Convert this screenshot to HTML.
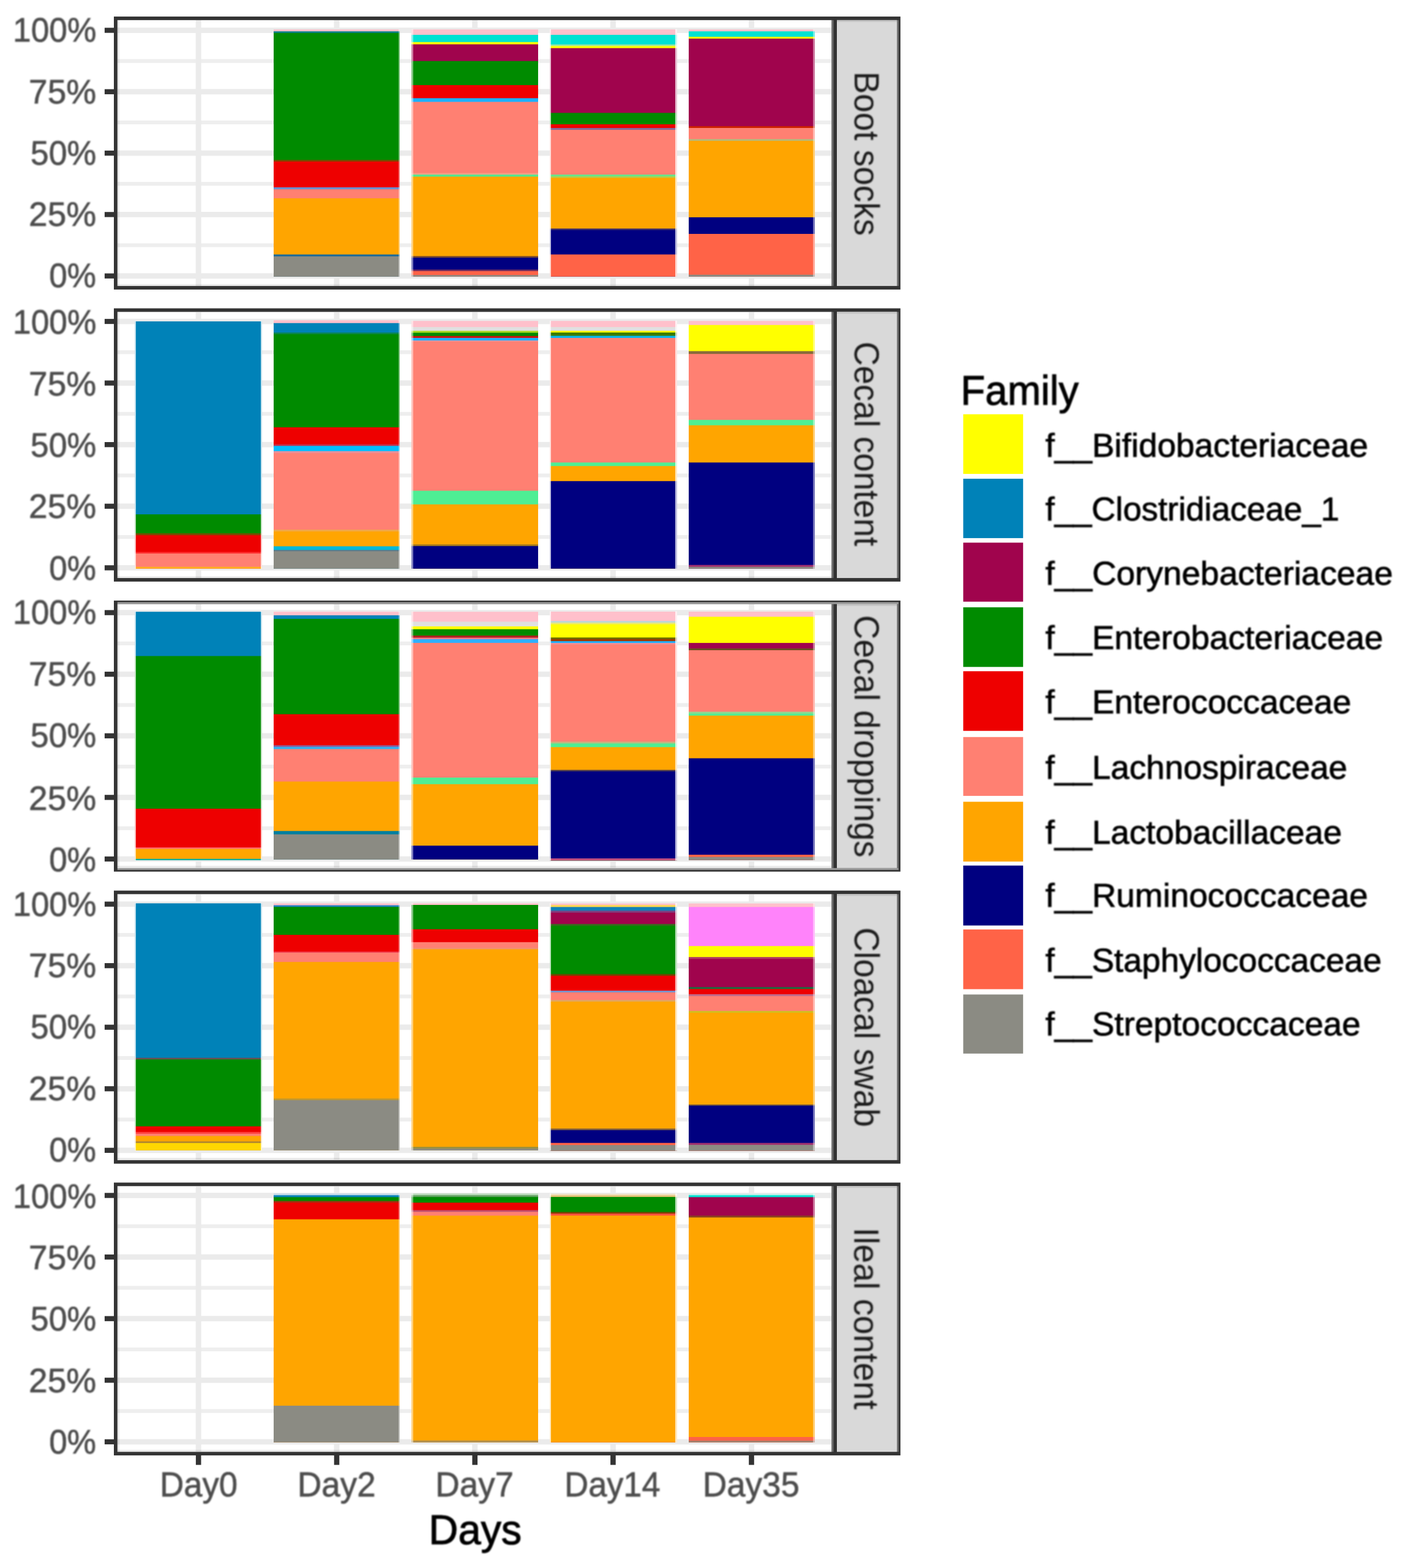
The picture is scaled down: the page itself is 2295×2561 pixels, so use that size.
<!DOCTYPE html>
<html lang="en">
<head>
<meta charset="utf-8">
<title>Family relative abundance by sample type and day</title>
<style>
html, body { margin: 0; padding: 0; background: #FFFFFF; }
body { width: 2295px; height: 2561px; overflow: hidden; }
svg { display: block; }
text { font-family: "Liberation Sans", sans-serif; }
.ax { font-size: 52.8px; fill: #4D4D4D; stroke: #4D4D4D; stroke-width: 0.7px; }
.strip { font-size: 53px; fill: #1A1A1A; }
.title { font-size: 64.5px; fill: #000000; stroke: #000000; stroke-width: 1.1px; }
.leg { font-size: 54px; fill: #000000; stroke: #000000; stroke-width: 0.9px; }
</style>
</head>
<body>
<svg width="2295" height="2561" viewBox="0 0 2295 2561" text-rendering="geometricPrecision">
<defs><filter id="soft" x="0" y="0" width="2295" height="2561" filterUnits="userSpaceOnUse"><feGaussianBlur stdDeviation="1"/></filter></defs>
<rect x="0" y="0" width="2295" height="2561" fill="#FFFFFF"/>
<g class="panel">
<rect x="186.00" y="27.05" width="1284.80" height="445.85" fill="#333333"/>
<rect x="191.80" y="32.85" width="1166.70" height="434.25" fill="#FFFFFF"/>
<rect x="192.00" y="45.10" width="1166.00" height="8.80" fill="#EBEBEB"/>
<rect x="192.00" y="96.55" width="1166.00" height="6.20" fill="#EEEEEE"/>
<rect x="192.00" y="145.40" width="1166.00" height="8.80" fill="#EBEBEB"/>
<rect x="192.00" y="196.85" width="1166.00" height="6.20" fill="#EEEEEE"/>
<rect x="192.00" y="245.70" width="1166.00" height="8.80" fill="#EBEBEB"/>
<rect x="192.00" y="297.15" width="1166.00" height="6.20" fill="#EEEEEE"/>
<rect x="192.00" y="346.00" width="1166.00" height="8.80" fill="#EBEBEB"/>
<rect x="192.00" y="397.45" width="1166.00" height="6.20" fill="#EEEEEE"/>
<rect x="192.00" y="446.30" width="1166.00" height="8.80" fill="#EBEBEB"/>
<rect x="319.70" y="33.00" width="9.00" height="434.00" fill="#EBEBEB"/>
<rect x="545.50" y="33.00" width="9.00" height="434.00" fill="#EBEBEB"/>
<rect x="771.20" y="33.00" width="9.00" height="434.00" fill="#EBEBEB"/>
<rect x="996.90" y="33.00" width="9.00" height="434.00" fill="#EBEBEB"/>
<rect x="1223.00" y="33.00" width="9.00" height="434.00" fill="#EBEBEB"/>
<rect x="192.00" y="33.00" width="2.90" height="434.00" fill="#000000" fill-opacity="0.09"/>
<rect x="192.00" y="464.10" width="1166.00" height="2.90" fill="#000000" fill-opacity="0.08"/>
<rect x="447.00" y="48.10" width="206.00" height="403.70" fill="#FFC0CB"/>
<rect x="447.00" y="51.20" width="206.00" height="400.60" fill="#00808A"/>
<rect x="447.00" y="53.80" width="206.00" height="398.00" fill="#008B00"/>
<rect x="447.00" y="261.20" width="206.00" height="190.60" fill="#7A4A00"/>
<rect x="447.00" y="263.80" width="206.00" height="188.00" fill="#EE0000"/>
<rect x="447.00" y="305.90" width="206.00" height="145.90" fill="#6A8FD0"/>
<rect x="447.00" y="309.20" width="206.00" height="142.60" fill="#FF8072"/>
<rect x="447.00" y="323.90" width="206.00" height="127.90" fill="#FFA500"/>
<rect x="447.00" y="415.60" width="206.00" height="36.20" fill="#1A6A9A"/>
<rect x="447.00" y="418.70" width="206.00" height="33.10" fill="#8B8B83"/>
<rect x="651.00" y="47.60" width="2.00" height="404.70" fill="#FFFFFF" fill-opacity="0.45"/>
<rect x="672.00" y="48.10" width="207.00" height="403.70" fill="#FFC0CB"/>
<rect x="672.00" y="56.90" width="207.00" height="394.90" fill="#00E2D2"/>
<rect x="672.00" y="68.70" width="207.00" height="383.10" fill="#FFFF00"/>
<rect x="672.00" y="72.40" width="207.00" height="379.40" fill="#A0044D"/>
<rect x="672.00" y="99.70" width="207.00" height="352.10" fill="#008B00"/>
<rect x="672.00" y="139.00" width="207.00" height="312.80" fill="#EE0000"/>
<rect x="672.00" y="160.40" width="207.00" height="291.40" fill="#1AB2FF"/>
<rect x="672.00" y="166.40" width="207.00" height="285.40" fill="#FF8072"/>
<rect x="672.00" y="282.60" width="207.00" height="169.20" fill="#F8A088"/>
<rect x="672.00" y="285.20" width="207.00" height="166.60" fill="#50E890"/>
<rect x="672.00" y="288.50" width="207.00" height="163.30" fill="#FFA500"/>
<rect x="672.00" y="418.20" width="207.00" height="33.60" fill="#7A4A30"/>
<rect x="672.00" y="420.80" width="207.00" height="31.00" fill="#000080"/>
<rect x="672.00" y="440.20" width="207.00" height="11.60" fill="#6A2A60"/>
<rect x="672.00" y="442.70" width="207.00" height="9.10" fill="#FF6347"/>
<rect x="672.00" y="449.20" width="207.00" height="2.60" fill="#8B8B83"/>
<rect x="672.00" y="47.60" width="3.00" height="404.70" fill="#FFFFFF" fill-opacity="0.5"/>
<rect x="898.00" y="48.10" width="208.00" height="403.70" fill="#FFC0CB"/>
<rect x="898.00" y="56.90" width="208.00" height="394.90" fill="#00E2D2"/>
<rect x="898.00" y="72.60" width="208.00" height="379.20" fill="#A0E8A0"/>
<rect x="898.00" y="75.20" width="208.00" height="376.60" fill="#FFFF00"/>
<rect x="898.00" y="78.60" width="208.00" height="373.20" fill="#A0044D"/>
<rect x="898.00" y="184.40" width="208.00" height="267.40" fill="#008B00"/>
<rect x="898.00" y="203.00" width="208.00" height="248.80" fill="#EE0000"/>
<rect x="898.00" y="209.00" width="208.00" height="242.80" fill="#8A6A9A"/>
<rect x="898.00" y="212.10" width="208.00" height="239.70" fill="#FF8072"/>
<rect x="898.00" y="285.20" width="208.00" height="166.60" fill="#60E890"/>
<rect x="898.00" y="287.80" width="208.00" height="164.00" fill="#B0D050"/>
<rect x="898.00" y="290.40" width="208.00" height="161.40" fill="#FFA500"/>
<rect x="898.00" y="373.30" width="208.00" height="78.50" fill="#3A2A6A"/>
<rect x="898.00" y="375.80" width="208.00" height="76.00" fill="#000080"/>
<rect x="898.00" y="415.60" width="208.00" height="36.20" fill="#FF6347"/>
<rect x="898.00" y="47.60" width="2.00" height="404.70" fill="#FFFFFF" fill-opacity="0.75"/>
<rect x="1103.00" y="47.60" width="3.00" height="404.70" fill="#FFFFFF" fill-opacity="0.75"/>
<rect x="1125.00" y="48.10" width="206.00" height="403.70" fill="#FFC0CB"/>
<rect x="1125.00" y="51.20" width="206.00" height="400.60" fill="#00E2D2"/>
<rect x="1125.00" y="60.00" width="206.00" height="391.80" fill="#FFFF00"/>
<rect x="1125.00" y="63.10" width="206.00" height="388.70" fill="#A0044D"/>
<rect x="1125.00" y="206.10" width="206.00" height="245.70" fill="#CC2200"/>
<rect x="1125.00" y="209.00" width="206.00" height="242.80" fill="#FF8072"/>
<rect x="1125.00" y="227.10" width="206.00" height="224.70" fill="#B8B878"/>
<rect x="1125.00" y="230.10" width="206.00" height="221.70" fill="#FFA500"/>
<rect x="1125.00" y="354.90" width="206.00" height="96.90" fill="#000080"/>
<rect x="1125.00" y="382.00" width="206.00" height="69.80" fill="#FF6347"/>
<rect x="1125.00" y="448.70" width="206.00" height="3.10" fill="#8B8B83"/>
<rect x="1328.00" y="47.60" width="3.00" height="404.70" fill="#FFFFFF" fill-opacity="0.45"/>
<rect x="1358.50" y="32.85" width="3.00" height="434.25" fill="#6E6E6E"/>
<rect x="1367.00" y="32.85" width="98.00" height="434.25" fill="#D9D9D9"/>
<rect x="1367.00" y="32.85" width="98.00" height="2.90" fill="#C4C4C4"/>
<rect x="1465.00" y="32.85" width="2.80" height="434.25" fill="#777777"/>
<rect x="170.90" y="45.35" width="15.60" height="8.30" fill="#333333"/>
<rect x="170.90" y="145.65" width="15.60" height="8.30" fill="#333333"/>
<rect x="170.90" y="245.95" width="15.60" height="8.30" fill="#333333"/>
<rect x="170.90" y="346.25" width="15.60" height="8.30" fill="#333333"/>
<rect x="170.90" y="446.55" width="15.60" height="8.30" fill="#333333"/>
</g>
<g class="panel">
<rect x="186.00" y="503.60" width="1284.80" height="446.30" fill="#333333"/>
<rect x="191.80" y="509.40" width="1166.70" height="434.70" fill="#FFFFFF"/>
<rect x="192.00" y="520.60" width="1166.00" height="8.80" fill="#EBEBEB"/>
<rect x="192.00" y="572.20" width="1166.00" height="6.20" fill="#EEEEEE"/>
<rect x="192.00" y="621.20" width="1166.00" height="8.80" fill="#EBEBEB"/>
<rect x="192.00" y="672.80" width="1166.00" height="6.20" fill="#EEEEEE"/>
<rect x="192.00" y="721.80" width="1166.00" height="8.80" fill="#EBEBEB"/>
<rect x="192.00" y="773.40" width="1166.00" height="6.20" fill="#EEEEEE"/>
<rect x="192.00" y="822.40" width="1166.00" height="8.80" fill="#EBEBEB"/>
<rect x="192.00" y="874.00" width="1166.00" height="6.20" fill="#EEEEEE"/>
<rect x="192.00" y="923.00" width="1166.00" height="8.80" fill="#EBEBEB"/>
<rect x="319.70" y="510.00" width="9.00" height="434.00" fill="#EBEBEB"/>
<rect x="545.50" y="510.00" width="9.00" height="434.00" fill="#EBEBEB"/>
<rect x="771.20" y="510.00" width="9.00" height="434.00" fill="#EBEBEB"/>
<rect x="996.90" y="510.00" width="9.00" height="434.00" fill="#EBEBEB"/>
<rect x="1223.00" y="510.00" width="9.00" height="434.00" fill="#EBEBEB"/>
<rect x="192.00" y="510.00" width="2.90" height="434.00" fill="#000000" fill-opacity="0.09"/>
<rect x="192.00" y="941.10" width="1166.00" height="2.90" fill="#000000" fill-opacity="0.08"/>
<rect x="220.00" y="524.90" width="208.00" height="403.80" fill="#0082B8"/>
<rect x="220.00" y="840.10" width="208.00" height="88.60" fill="#008B00"/>
<rect x="220.00" y="871.10" width="208.00" height="57.60" fill="#7A4A00"/>
<rect x="220.00" y="874.20" width="208.00" height="54.50" fill="#EE0000"/>
<rect x="220.00" y="901.60" width="208.00" height="27.10" fill="#FF3030"/>
<rect x="220.00" y="904.10" width="208.00" height="24.60" fill="#FF8072"/>
<rect x="220.00" y="925.80" width="208.00" height="2.90" fill="#FFB020"/>
<rect x="220.00" y="524.40" width="2.00" height="404.80" fill="#FFFFFF" fill-opacity="0.75"/>
<rect x="426.00" y="524.40" width="2.00" height="404.80" fill="#FFFFFF" fill-opacity="0.75"/>
<rect x="447.00" y="523.10" width="206.00" height="405.60" fill="#FFC0CB"/>
<rect x="447.00" y="527.70" width="206.00" height="401.00" fill="#0082B8"/>
<rect x="447.00" y="543.20" width="206.00" height="385.50" fill="#0A8550"/>
<rect x="447.00" y="545.80" width="206.00" height="382.90" fill="#008B00"/>
<rect x="447.00" y="697.90" width="206.00" height="230.80" fill="#EE0000"/>
<rect x="447.00" y="725.50" width="206.00" height="203.20" fill="#C83048"/>
<rect x="447.00" y="728.30" width="206.00" height="200.40" fill="#00BFFF"/>
<rect x="447.00" y="736.80" width="206.00" height="191.90" fill="#E8909A"/>
<rect x="447.00" y="740.10" width="206.00" height="188.60" fill="#FF8072"/>
<rect x="447.00" y="865.10" width="206.00" height="63.60" fill="#F0A848"/>
<rect x="447.00" y="868.00" width="206.00" height="60.70" fill="#FFA500"/>
<rect x="447.00" y="892.30" width="206.00" height="36.40" fill="#00B8D8"/>
<rect x="447.00" y="898.20" width="206.00" height="30.50" fill="#5A7A8A"/>
<rect x="447.00" y="900.30" width="206.00" height="28.40" fill="#8B8B83"/>
<rect x="651.00" y="522.60" width="2.00" height="406.60" fill="#FFFFFF" fill-opacity="0.45"/>
<rect x="672.00" y="524.20" width="207.00" height="404.60" fill="#FFC0CB"/>
<rect x="672.00" y="534.20" width="207.00" height="394.60" fill="#E0E0E0"/>
<rect x="672.00" y="540.40" width="207.00" height="388.40" fill="#A8D820"/>
<rect x="672.00" y="543.50" width="207.00" height="385.30" fill="#008B00"/>
<rect x="672.00" y="548.80" width="207.00" height="380.00" fill="#D01010"/>
<rect x="672.00" y="551.90" width="207.00" height="376.90" fill="#1AB2FF"/>
<rect x="672.00" y="556.20" width="207.00" height="372.60" fill="#FF9090"/>
<rect x="672.00" y="558.00" width="207.00" height="370.80" fill="#FF8072"/>
<rect x="672.00" y="801.50" width="207.00" height="127.30" fill="#4EEE94"/>
<rect x="672.00" y="823.80" width="207.00" height="105.00" fill="#FFA500"/>
<rect x="672.00" y="889.20" width="207.00" height="39.60" fill="#A07820"/>
<rect x="672.00" y="891.90" width="207.00" height="36.90" fill="#000080"/>
<rect x="672.00" y="523.70" width="3.00" height="405.60" fill="#FFFFFF" fill-opacity="0.5"/>
<rect x="898.00" y="524.20" width="208.00" height="404.60" fill="#FFC0CB"/>
<rect x="898.00" y="534.20" width="208.00" height="394.60" fill="#E0E0E0"/>
<rect x="898.00" y="540.40" width="208.00" height="388.40" fill="#FFFF00"/>
<rect x="898.00" y="543.10" width="208.00" height="385.70" fill="#3A7A00"/>
<rect x="898.00" y="548.50" width="208.00" height="380.30" fill="#00B8F0"/>
<rect x="898.00" y="551.90" width="208.00" height="376.90" fill="#FF8072"/>
<rect x="898.00" y="755.40" width="208.00" height="173.40" fill="#4EEE94"/>
<rect x="898.00" y="761.20" width="208.00" height="167.60" fill="#FFA500"/>
<rect x="898.00" y="785.80" width="208.00" height="143.00" fill="#000080"/>
<rect x="898.00" y="523.70" width="2.00" height="405.60" fill="#FFFFFF" fill-opacity="0.75"/>
<rect x="1103.00" y="523.70" width="3.00" height="405.60" fill="#FFFFFF" fill-opacity="0.75"/>
<rect x="1125.00" y="524.20" width="206.00" height="404.60" fill="#FFC0CB"/>
<rect x="1125.00" y="530.80" width="206.00" height="398.00" fill="#FFFF00"/>
<rect x="1125.00" y="573.50" width="206.00" height="355.30" fill="#8A6A3A"/>
<rect x="1125.00" y="578.10" width="206.00" height="350.70" fill="#FF8072"/>
<rect x="1125.00" y="685.80" width="206.00" height="243.00" fill="#4EEE94"/>
<rect x="1125.00" y="694.60" width="206.00" height="234.20" fill="#FFA500"/>
<rect x="1125.00" y="755.40" width="206.00" height="173.40" fill="#000080"/>
<rect x="1125.00" y="922.70" width="206.00" height="6.10" fill="#A03070"/>
<rect x="1125.00" y="925.80" width="206.00" height="3.00" fill="#8B8B83"/>
<rect x="1328.00" y="523.70" width="3.00" height="405.60" fill="#FFFFFF" fill-opacity="0.45"/>
<rect x="1358.50" y="509.40" width="3.00" height="434.70" fill="#6E6E6E"/>
<rect x="1367.00" y="509.40" width="98.00" height="434.70" fill="#D9D9D9"/>
<rect x="1367.00" y="509.40" width="98.00" height="2.90" fill="#C4C4C4"/>
<rect x="1465.00" y="509.40" width="2.80" height="434.70" fill="#777777"/>
<rect x="170.90" y="520.85" width="15.60" height="8.30" fill="#333333"/>
<rect x="170.90" y="621.45" width="15.60" height="8.30" fill="#333333"/>
<rect x="170.90" y="722.05" width="15.60" height="8.30" fill="#333333"/>
<rect x="170.90" y="822.65" width="15.60" height="8.30" fill="#333333"/>
<rect x="170.90" y="923.25" width="15.60" height="8.30" fill="#333333"/>
</g>
<g class="panel">
<rect x="186.00" y="980.90" width="1284.80" height="442.70" fill="#333333"/>
<rect x="191.80" y="986.70" width="1166.70" height="431.10" fill="#FFFFFF"/>
<rect x="192.00" y="996.20" width="1166.00" height="8.80" fill="#EBEBEB"/>
<rect x="192.00" y="1047.80" width="1166.00" height="6.20" fill="#EEEEEE"/>
<rect x="192.00" y="1096.80" width="1166.00" height="8.80" fill="#EBEBEB"/>
<rect x="192.00" y="1148.40" width="1166.00" height="6.20" fill="#EEEEEE"/>
<rect x="192.00" y="1197.40" width="1166.00" height="8.80" fill="#EBEBEB"/>
<rect x="192.00" y="1249.00" width="1166.00" height="6.20" fill="#EEEEEE"/>
<rect x="192.00" y="1298.00" width="1166.00" height="8.80" fill="#EBEBEB"/>
<rect x="192.00" y="1349.60" width="1166.00" height="6.20" fill="#EEEEEE"/>
<rect x="192.00" y="1398.60" width="1166.00" height="8.80" fill="#EBEBEB"/>
<rect x="319.70" y="987.00" width="9.00" height="430.00" fill="#EBEBEB"/>
<rect x="545.50" y="987.00" width="9.00" height="430.00" fill="#EBEBEB"/>
<rect x="771.20" y="987.00" width="9.00" height="430.00" fill="#EBEBEB"/>
<rect x="996.90" y="987.00" width="9.00" height="430.00" fill="#EBEBEB"/>
<rect x="1223.00" y="987.00" width="9.00" height="430.00" fill="#EBEBEB"/>
<rect x="192.00" y="987.00" width="2.90" height="430.00" fill="#000000" fill-opacity="0.09"/>
<rect x="192.00" y="1414.10" width="1166.00" height="2.90" fill="#000000" fill-opacity="0.08"/>
<rect x="220.00" y="999.20" width="208.00" height="405.80" fill="#0082B8"/>
<rect x="220.00" y="1071.50" width="208.00" height="333.50" fill="#008B00"/>
<rect x="220.00" y="1320.80" width="208.00" height="84.20" fill="#EE0000"/>
<rect x="220.00" y="1384.20" width="208.00" height="20.80" fill="#FF7070"/>
<rect x="220.00" y="1386.50" width="208.00" height="18.50" fill="#FFA500"/>
<rect x="220.00" y="1402.70" width="208.00" height="2.30" fill="#10B0A0"/>
<rect x="220.00" y="998.70" width="2.00" height="406.80" fill="#FFFFFF" fill-opacity="0.75"/>
<rect x="426.00" y="998.70" width="2.00" height="406.80" fill="#FFFFFF" fill-opacity="0.75"/>
<rect x="447.00" y="999.20" width="206.00" height="404.60" fill="#FFC0CB"/>
<rect x="447.00" y="1005.00" width="206.00" height="398.80" fill="#0082B8"/>
<rect x="447.00" y="1010.80" width="206.00" height="393.00" fill="#008B00"/>
<rect x="447.00" y="1166.50" width="206.00" height="237.30" fill="#EE0000"/>
<rect x="447.00" y="1217.30" width="206.00" height="186.50" fill="#8A60A0"/>
<rect x="447.00" y="1220.00" width="206.00" height="183.80" fill="#30B0F0"/>
<rect x="447.00" y="1223.50" width="206.00" height="180.30" fill="#FF8072"/>
<rect x="447.00" y="1276.50" width="206.00" height="127.30" fill="#FFA500"/>
<rect x="447.00" y="1357.30" width="206.00" height="46.50" fill="#007F9F"/>
<rect x="447.00" y="1362.70" width="206.00" height="41.10" fill="#8B8B83"/>
<rect x="651.00" y="998.70" width="2.00" height="405.60" fill="#FFFFFF" fill-opacity="0.45"/>
<rect x="672.00" y="999.20" width="207.00" height="404.60" fill="#FFC0CB"/>
<rect x="672.00" y="1015.40" width="207.00" height="388.40" fill="#E0E0E0"/>
<rect x="672.00" y="1023.10" width="207.00" height="380.70" fill="#FFFF00"/>
<rect x="672.00" y="1027.70" width="207.00" height="376.10" fill="#008B00"/>
<rect x="672.00" y="1038.10" width="207.00" height="365.70" fill="#B02020"/>
<rect x="672.00" y="1041.50" width="207.00" height="362.30" fill="#F08090"/>
<rect x="672.00" y="1044.00" width="207.00" height="359.80" fill="#30B0FF"/>
<rect x="672.00" y="1050.00" width="207.00" height="353.80" fill="#FF8072"/>
<rect x="672.00" y="1270.00" width="207.00" height="133.80" fill="#4EEE94"/>
<rect x="672.00" y="1280.80" width="207.00" height="123.00" fill="#FFA500"/>
<rect x="672.00" y="1381.20" width="207.00" height="22.60" fill="#000080"/>
<rect x="672.00" y="998.70" width="3.00" height="405.60" fill="#FFFFFF" fill-opacity="0.5"/>
<rect x="898.00" y="999.00" width="208.00" height="406.20" fill="#FFC0CB"/>
<rect x="898.00" y="1014.30" width="208.00" height="390.90" fill="#B8D8D8"/>
<rect x="898.00" y="1016.90" width="208.00" height="388.30" fill="#E8E878"/>
<rect x="898.00" y="1019.60" width="208.00" height="385.60" fill="#FFFF00"/>
<rect x="898.00" y="1041.20" width="208.00" height="364.00" fill="#6B6B00"/>
<rect x="898.00" y="1043.80" width="208.00" height="361.40" fill="#A03800"/>
<rect x="898.00" y="1047.20" width="208.00" height="358.00" fill="#1AB2FF"/>
<rect x="898.00" y="1050.10" width="208.00" height="355.10" fill="#F09098"/>
<rect x="898.00" y="1052.50" width="208.00" height="352.70" fill="#FF8072"/>
<rect x="898.00" y="1211.40" width="208.00" height="193.80" fill="#C0B880"/>
<rect x="898.00" y="1214.30" width="208.00" height="190.90" fill="#4EEE94"/>
<rect x="898.00" y="1220.30" width="208.00" height="184.90" fill="#FFA500"/>
<rect x="898.00" y="1257.50" width="208.00" height="147.70" fill="#4A3A50"/>
<rect x="898.00" y="1259.90" width="208.00" height="145.30" fill="#000080"/>
<rect x="898.00" y="1402.00" width="208.00" height="3.20" fill="#C05080"/>
<rect x="898.00" y="998.50" width="2.00" height="407.20" fill="#FFFFFF" fill-opacity="0.75"/>
<rect x="1103.00" y="998.50" width="3.00" height="407.20" fill="#FFFFFF" fill-opacity="0.75"/>
<rect x="1125.00" y="999.00" width="206.00" height="405.70" fill="#FFC0CB"/>
<rect x="1125.00" y="1007.40" width="206.00" height="397.30" fill="#FFFF00"/>
<rect x="1125.00" y="1050.10" width="206.00" height="354.60" fill="#A0044D"/>
<rect x="1125.00" y="1059.10" width="206.00" height="345.60" fill="#6B5020"/>
<rect x="1125.00" y="1062.00" width="206.00" height="342.70" fill="#FF8072"/>
<rect x="1125.00" y="1162.50" width="206.00" height="242.20" fill="#90D890"/>
<rect x="1125.00" y="1165.60" width="206.00" height="239.10" fill="#4EEE94"/>
<rect x="1125.00" y="1168.80" width="206.00" height="235.90" fill="#FFA500"/>
<rect x="1125.00" y="1238.50" width="206.00" height="166.20" fill="#000080"/>
<rect x="1125.00" y="1396.00" width="206.00" height="8.70" fill="#FF6347"/>
<rect x="1125.00" y="1399.60" width="206.00" height="5.10" fill="#8B8B83"/>
<rect x="1328.00" y="998.50" width="3.00" height="406.70" fill="#FFFFFF" fill-opacity="0.45"/>
<rect x="1358.50" y="986.70" width="3.00" height="431.10" fill="#6E6E6E"/>
<rect x="1367.00" y="986.70" width="98.00" height="431.10" fill="#D9D9D9"/>
<rect x="1367.00" y="986.70" width="98.00" height="2.90" fill="#C4C4C4"/>
<rect x="1465.00" y="986.70" width="2.80" height="431.10" fill="#777777"/>
<rect x="191.80" y="983.40" width="1276.00" height="3.30" fill="#FFFFFF" fill-opacity="0.5"/>
<rect x="191.80" y="1417.80" width="1276.00" height="3.10" fill="#FFFFFF" fill-opacity="0.5"/>
<rect x="170.90" y="996.45" width="15.60" height="8.30" fill="#333333"/>
<rect x="170.90" y="1097.05" width="15.60" height="8.30" fill="#333333"/>
<rect x="170.90" y="1197.65" width="15.60" height="8.30" fill="#333333"/>
<rect x="170.90" y="1298.25" width="15.60" height="8.30" fill="#333333"/>
<rect x="170.90" y="1398.85" width="15.60" height="8.30" fill="#333333"/>
</g>
<g class="panel">
<rect x="186.00" y="1454.60" width="1284.80" height="446.00" fill="#333333"/>
<rect x="191.80" y="1460.40" width="1166.70" height="434.40" fill="#FFFFFF"/>
<rect x="192.00" y="1472.30" width="1166.00" height="8.80" fill="#EBEBEB"/>
<rect x="192.00" y="1523.86" width="1166.00" height="6.20" fill="#EEEEEE"/>
<rect x="192.00" y="1572.82" width="1166.00" height="8.80" fill="#EBEBEB"/>
<rect x="192.00" y="1624.39" width="1166.00" height="6.20" fill="#EEEEEE"/>
<rect x="192.00" y="1673.35" width="1166.00" height="8.80" fill="#EBEBEB"/>
<rect x="192.00" y="1724.91" width="1166.00" height="6.20" fill="#EEEEEE"/>
<rect x="192.00" y="1773.88" width="1166.00" height="8.80" fill="#EBEBEB"/>
<rect x="192.00" y="1825.44" width="1166.00" height="6.20" fill="#EEEEEE"/>
<rect x="192.00" y="1874.40" width="1166.00" height="8.80" fill="#EBEBEB"/>
<rect x="319.70" y="1461.00" width="9.00" height="433.00" fill="#EBEBEB"/>
<rect x="545.50" y="1461.00" width="9.00" height="433.00" fill="#EBEBEB"/>
<rect x="771.20" y="1461.00" width="9.00" height="433.00" fill="#EBEBEB"/>
<rect x="996.90" y="1461.00" width="9.00" height="433.00" fill="#EBEBEB"/>
<rect x="1223.00" y="1461.00" width="9.00" height="433.00" fill="#EBEBEB"/>
<rect x="192.00" y="1461.00" width="2.90" height="433.00" fill="#000000" fill-opacity="0.09"/>
<rect x="192.00" y="1891.10" width="1166.00" height="2.90" fill="#000000" fill-opacity="0.08"/>
<rect x="220.00" y="1475.40" width="208.00" height="403.40" fill="#0082B8"/>
<rect x="220.00" y="1727.70" width="208.00" height="151.10" fill="#6A5050"/>
<rect x="220.00" y="1730.40" width="208.00" height="148.40" fill="#008B00"/>
<rect x="220.00" y="1839.60" width="208.00" height="39.20" fill="#EE0000"/>
<rect x="220.00" y="1848.80" width="208.00" height="30.00" fill="#FF4040"/>
<rect x="220.00" y="1851.80" width="208.00" height="27.00" fill="#FF8072"/>
<rect x="220.00" y="1855.40" width="208.00" height="23.40" fill="#FFA500"/>
<rect x="220.00" y="1864.20" width="208.00" height="14.60" fill="#B08830"/>
<rect x="220.00" y="1866.90" width="208.00" height="11.90" fill="#FFD700"/>
<rect x="220.00" y="1474.90" width="2.00" height="404.40" fill="#FFFFFF" fill-opacity="0.75"/>
<rect x="426.00" y="1474.90" width="2.00" height="404.40" fill="#FFFFFF" fill-opacity="0.75"/>
<rect x="447.00" y="1475.40" width="206.00" height="403.40" fill="#FFC0CB"/>
<rect x="447.00" y="1478.50" width="206.00" height="400.30" fill="#2080C0"/>
<rect x="447.00" y="1481.20" width="206.00" height="397.60" fill="#008B00"/>
<rect x="447.00" y="1526.90" width="206.00" height="351.90" fill="#EE0000"/>
<rect x="447.00" y="1554.20" width="206.00" height="324.60" fill="#F04050"/>
<rect x="447.00" y="1556.00" width="206.00" height="322.80" fill="#FF8072"/>
<rect x="447.00" y="1571.20" width="206.00" height="307.60" fill="#FFA500"/>
<rect x="447.00" y="1794.20" width="206.00" height="84.60" fill="#C09830"/>
<rect x="447.00" y="1796.90" width="206.00" height="81.90" fill="#8B8B83"/>
<rect x="651.00" y="1474.90" width="2.00" height="404.40" fill="#FFFFFF" fill-opacity="0.45"/>
<rect x="672.00" y="1475.40" width="207.00" height="403.40" fill="#FFC0CB"/>
<rect x="672.00" y="1478.00" width="207.00" height="400.80" fill="#008B00"/>
<rect x="672.00" y="1517.70" width="207.00" height="361.10" fill="#EE0000"/>
<rect x="672.00" y="1538.80" width="207.00" height="340.00" fill="#FF8072"/>
<rect x="672.00" y="1548.00" width="207.00" height="330.80" fill="#F09070"/>
<rect x="672.00" y="1550.40" width="207.00" height="328.40" fill="#FFA500"/>
<rect x="672.00" y="1873.10" width="207.00" height="5.70" fill="#9A9040"/>
<rect x="672.00" y="1876.00" width="207.00" height="2.80" fill="#8B8B83"/>
<rect x="672.00" y="1474.90" width="3.00" height="404.40" fill="#FFFFFF" fill-opacity="0.5"/>
<rect x="898.00" y="1475.60" width="208.00" height="403.50" fill="#FFC0CB"/>
<rect x="898.00" y="1478.20" width="208.00" height="400.90" fill="#FFD750"/>
<rect x="898.00" y="1481.40" width="208.00" height="397.70" fill="#1082B8"/>
<rect x="898.00" y="1487.40" width="208.00" height="391.70" fill="#804080"/>
<rect x="898.00" y="1490.60" width="208.00" height="388.50" fill="#A0044D"/>
<rect x="898.00" y="1509.10" width="208.00" height="370.00" fill="#3A6A20"/>
<rect x="898.00" y="1512.00" width="208.00" height="367.10" fill="#008B00"/>
<rect x="898.00" y="1590.80" width="208.00" height="288.30" fill="#6A4A00"/>
<rect x="898.00" y="1593.70" width="208.00" height="285.40" fill="#EE0000"/>
<rect x="898.00" y="1618.00" width="208.00" height="261.10" fill="#7A90C8"/>
<rect x="898.00" y="1620.90" width="208.00" height="258.20" fill="#FF8072"/>
<rect x="898.00" y="1633.30" width="208.00" height="245.80" fill="#E0A860"/>
<rect x="898.00" y="1635.90" width="208.00" height="243.20" fill="#FFA500"/>
<rect x="898.00" y="1843.30" width="208.00" height="35.80" fill="#7A5A40"/>
<rect x="898.00" y="1845.90" width="208.00" height="33.20" fill="#000080"/>
<rect x="898.00" y="1866.70" width="208.00" height="12.40" fill="#FF6347"/>
<rect x="898.00" y="1870.20" width="208.00" height="8.90" fill="#8B8B83"/>
<rect x="898.00" y="1475.10" width="2.00" height="404.50" fill="#FFFFFF" fill-opacity="0.75"/>
<rect x="1103.00" y="1475.10" width="3.00" height="404.50" fill="#FFFFFF" fill-opacity="0.75"/>
<rect x="1125.00" y="1475.60" width="206.00" height="403.50" fill="#FFC0CB"/>
<rect x="1125.00" y="1481.40" width="206.00" height="397.70" fill="#FF83FA"/>
<rect x="1125.00" y="1545.20" width="206.00" height="333.90" fill="#FFFF00"/>
<rect x="1125.00" y="1563.10" width="206.00" height="316.00" fill="#B04060"/>
<rect x="1125.00" y="1566.30" width="206.00" height="312.80" fill="#A0044D"/>
<rect x="1125.00" y="1612.20" width="206.00" height="266.90" fill="#206A40"/>
<rect x="1125.00" y="1615.30" width="206.00" height="263.80" fill="#EE0000"/>
<rect x="1125.00" y="1623.80" width="206.00" height="255.30" fill="#C06A8A"/>
<rect x="1125.00" y="1626.90" width="206.00" height="252.20" fill="#FF8072"/>
<rect x="1125.00" y="1651.20" width="206.00" height="227.90" fill="#D0C020"/>
<rect x="1125.00" y="1654.10" width="206.00" height="225.00" fill="#FFA500"/>
<rect x="1125.00" y="1804.00" width="206.00" height="75.10" fill="#6A5040"/>
<rect x="1125.00" y="1806.00" width="206.00" height="73.10" fill="#000080"/>
<rect x="1125.00" y="1866.70" width="206.00" height="12.40" fill="#A03070"/>
<rect x="1125.00" y="1869.90" width="206.00" height="9.20" fill="#8B8B83"/>
<rect x="1328.00" y="1475.10" width="3.00" height="404.50" fill="#FFFFFF" fill-opacity="0.45"/>
<rect x="1358.50" y="1460.40" width="3.00" height="434.40" fill="#6E6E6E"/>
<rect x="1367.00" y="1460.40" width="98.00" height="434.40" fill="#D9D9D9"/>
<rect x="1367.00" y="1460.40" width="98.00" height="2.90" fill="#C4C4C4"/>
<rect x="1465.00" y="1460.40" width="2.80" height="434.40" fill="#777777"/>
<rect x="170.90" y="1472.55" width="15.60" height="8.30" fill="#333333"/>
<rect x="170.90" y="1573.07" width="15.60" height="8.30" fill="#333333"/>
<rect x="170.90" y="1673.60" width="15.60" height="8.30" fill="#333333"/>
<rect x="170.90" y="1774.12" width="15.60" height="8.30" fill="#333333"/>
<rect x="170.90" y="1874.65" width="15.60" height="8.30" fill="#333333"/>
</g>
<g class="panel">
<rect x="186.00" y="1931.50" width="1284.80" height="445.60" fill="#333333"/>
<rect x="191.80" y="1937.30" width="1166.70" height="434.00" fill="#FFFFFF"/>
<rect x="192.00" y="1948.10" width="1166.00" height="8.80" fill="#EBEBEB"/>
<rect x="192.00" y="1999.70" width="1166.00" height="6.20" fill="#EEEEEE"/>
<rect x="192.00" y="2048.70" width="1166.00" height="8.80" fill="#EBEBEB"/>
<rect x="192.00" y="2100.30" width="1166.00" height="6.20" fill="#EEEEEE"/>
<rect x="192.00" y="2149.30" width="1166.00" height="8.80" fill="#EBEBEB"/>
<rect x="192.00" y="2200.90" width="1166.00" height="6.20" fill="#EEEEEE"/>
<rect x="192.00" y="2249.90" width="1166.00" height="8.80" fill="#EBEBEB"/>
<rect x="192.00" y="2301.50" width="1166.00" height="6.20" fill="#EEEEEE"/>
<rect x="192.00" y="2350.50" width="1166.00" height="8.80" fill="#EBEBEB"/>
<rect x="319.70" y="1938.00" width="9.00" height="433.00" fill="#EBEBEB"/>
<rect x="545.50" y="1938.00" width="9.00" height="433.00" fill="#EBEBEB"/>
<rect x="771.20" y="1938.00" width="9.00" height="433.00" fill="#EBEBEB"/>
<rect x="996.90" y="1938.00" width="9.00" height="433.00" fill="#EBEBEB"/>
<rect x="1223.00" y="1938.00" width="9.00" height="433.00" fill="#EBEBEB"/>
<rect x="192.00" y="1938.00" width="2.90" height="433.00" fill="#000000" fill-opacity="0.09"/>
<rect x="192.00" y="2368.10" width="1166.00" height="2.90" fill="#000000" fill-opacity="0.08"/>
<rect x="447.00" y="1949.40" width="206.00" height="406.40" fill="#C0D8E8"/>
<rect x="447.00" y="1952.20" width="206.00" height="403.60" fill="#0082B8"/>
<rect x="447.00" y="1955.30" width="206.00" height="400.50" fill="#008B00"/>
<rect x="447.00" y="1961.50" width="206.00" height="394.30" fill="#A03010"/>
<rect x="447.00" y="1964.30" width="206.00" height="391.50" fill="#EE0000"/>
<rect x="447.00" y="1991.50" width="206.00" height="364.30" fill="#FFA500"/>
<rect x="447.00" y="2295.90" width="206.00" height="59.90" fill="#8B8B83"/>
<rect x="651.00" y="1948.90" width="2.00" height="407.40" fill="#FFFFFF" fill-opacity="0.45"/>
<rect x="672.00" y="1949.40" width="207.00" height="406.40" fill="#B8D8B8"/>
<rect x="672.00" y="1952.20" width="207.00" height="403.60" fill="#60A060"/>
<rect x="672.00" y="1955.10" width="207.00" height="400.70" fill="#008B00"/>
<rect x="672.00" y="1964.30" width="207.00" height="391.50" fill="#EE0000"/>
<rect x="672.00" y="1976.50" width="207.00" height="379.30" fill="#C05070"/>
<rect x="672.00" y="1979.30" width="207.00" height="376.50" fill="#FF8072"/>
<rect x="672.00" y="1985.50" width="207.00" height="370.30" fill="#FFA500"/>
<rect x="672.00" y="2352.70" width="207.00" height="3.10" fill="#B09050"/>
<rect x="672.00" y="1948.90" width="3.00" height="407.40" fill="#FFFFFF" fill-opacity="0.5"/>
<rect x="898.00" y="1949.80" width="208.00" height="405.90" fill="#F0E0C0"/>
<rect x="898.00" y="1952.40" width="208.00" height="403.30" fill="#E0C070"/>
<rect x="898.00" y="1955.00" width="208.00" height="400.70" fill="#008B00"/>
<rect x="898.00" y="1979.60" width="208.00" height="376.10" fill="#804000"/>
<rect x="898.00" y="1982.20" width="208.00" height="373.50" fill="#FF5040"/>
<rect x="898.00" y="1985.40" width="208.00" height="370.30" fill="#FFA500"/>
<rect x="898.00" y="1949.30" width="2.00" height="406.90" fill="#FFFFFF" fill-opacity="0.75"/>
<rect x="1103.00" y="1949.30" width="3.00" height="406.90" fill="#FFFFFF" fill-opacity="0.75"/>
<rect x="1125.00" y="1949.80" width="206.00" height="405.90" fill="#C0F0E8"/>
<rect x="1125.00" y="1952.20" width="206.00" height="403.50" fill="#00E2D2"/>
<rect x="1125.00" y="1955.30" width="206.00" height="400.40" fill="#A0044D"/>
<rect x="1125.00" y="1985.40" width="206.00" height="370.30" fill="#8A4020"/>
<rect x="1125.00" y="1988.50" width="206.00" height="367.20" fill="#FFA500"/>
<rect x="1125.00" y="2347.00" width="206.00" height="8.70" fill="#FF6347"/>
<rect x="1125.00" y="2353.00" width="206.00" height="2.70" fill="#A08070"/>
<rect x="1328.00" y="1949.30" width="3.00" height="406.90" fill="#FFFFFF" fill-opacity="0.45"/>
<rect x="1358.50" y="1937.30" width="3.00" height="434.00" fill="#6E6E6E"/>
<rect x="1367.00" y="1937.30" width="98.00" height="434.00" fill="#D9D9D9"/>
<rect x="1367.00" y="1937.30" width="98.00" height="2.90" fill="#C4C4C4"/>
<rect x="1465.00" y="1937.30" width="2.80" height="434.00" fill="#777777"/>
<rect x="170.90" y="1948.35" width="15.60" height="8.30" fill="#333333"/>
<rect x="170.90" y="2048.95" width="15.60" height="8.30" fill="#333333"/>
<rect x="170.90" y="2149.55" width="15.60" height="8.30" fill="#333333"/>
<rect x="170.90" y="2250.15" width="15.60" height="8.30" fill="#333333"/>
<rect x="170.90" y="2350.75" width="15.60" height="8.30" fill="#333333"/>
</g>
<rect x="319.90" y="2376.60" width="8.60" height="16.00" fill="#333333"/>
<rect x="545.70" y="2376.60" width="8.60" height="16.00" fill="#333333"/>
<rect x="771.40" y="2376.60" width="8.60" height="16.00" fill="#333333"/>
<rect x="997.10" y="2376.60" width="8.60" height="16.00" fill="#333333"/>
<rect x="1223.20" y="2376.60" width="8.60" height="16.00" fill="#333333"/>
<rect x="1573.40" y="676.60" width="97.80" height="97.40" fill="#FFFF00"/>
<rect x="1573.40" y="781.90" width="97.80" height="97.00" fill="#0082B8"/>
<rect x="1573.40" y="886.30" width="97.80" height="96.40" fill="#A0044D"/>
<rect x="1573.40" y="991.90" width="97.80" height="97.40" fill="#008B00"/>
<rect x="1573.40" y="1096.30" width="97.80" height="97.40" fill="#EE0000"/>
<rect x="1573.40" y="1203.80" width="97.80" height="96.10" fill="#FF8072"/>
<rect x="1573.40" y="1309.50" width="97.80" height="97.70" fill="#FFA500"/>
<rect x="1573.40" y="1413.70" width="97.80" height="97.90" fill="#000080"/>
<rect x="1573.40" y="1518.10" width="97.80" height="97.50" fill="#FF6347"/>
<rect x="1573.40" y="1624.30" width="97.80" height="96.50" fill="#8B8B83"/>
<g class="labels" filter="url(#soft)">
<text class="strip" transform="translate(1395.60 116.70) rotate(90) scale(1.0352 1.0800)">Boot socks</text>
<text class="ax" transform="translate(21.12 68.47) scale(1.0085 1.0520)">100%</text>
<text class="ax" transform="translate(47.10 168.77) scale(1.0423 1.0520)">75%</text>
<text class="ax" transform="translate(49.87 268.87) scale(1.0157 1.0520)">50%</text>
<text class="ax" transform="translate(47.10 369.17) scale(1.0423 1.0520)">25%</text>
<text class="ax" transform="translate(80.34 469.37) scale(1.0055 1.0520)">0%</text>
<text class="strip" transform="translate(1395.60 558.06) rotate(90) scale(1.0312 1.0800)">Cecal content</text>
<text class="ax" transform="translate(21.12 545.47) scale(1.0085 1.0520)">100%</text>
<text class="ax" transform="translate(47.10 645.77) scale(1.0423 1.0520)">75%</text>
<text class="ax" transform="translate(49.87 746.07) scale(1.0157 1.0520)">50%</text>
<text class="ax" transform="translate(47.10 846.47) scale(1.0423 1.0520)">25%</text>
<text class="ax" transform="translate(80.34 946.67) scale(1.0055 1.0520)">0%</text>
<text class="strip" transform="translate(1395.60 1004.86) rotate(90) scale(1.0329 1.0800)">Cecal droppings</text>
<text class="ax" transform="translate(21.12 1019.27) scale(1.0085 1.0520)">100%</text>
<text class="ax" transform="translate(47.10 1119.57) scale(1.0423 1.0520)">75%</text>
<text class="ax" transform="translate(49.87 1219.77) scale(1.0157 1.0520)">50%</text>
<text class="ax" transform="translate(47.10 1322.97) scale(1.0423 1.0520)">25%</text>
<text class="ax" transform="translate(80.34 1423.17) scale(1.0055 1.0520)">0%</text>
<text class="strip" transform="translate(1395.60 1514.65) rotate(90) scale(1.0346 1.0800)">Cloacal swab</text>
<text class="ax" transform="translate(21.12 1496.07) scale(1.0085 1.0520)">100%</text>
<text class="ax" transform="translate(47.10 1596.27) scale(1.0423 1.0520)">75%</text>
<text class="ax" transform="translate(49.87 1696.47) scale(1.0157 1.0520)">50%</text>
<text class="ax" transform="translate(47.10 1797.07) scale(1.0423 1.0520)">25%</text>
<text class="ax" transform="translate(80.34 1896.97) scale(1.0055 1.0520)">0%</text>
<text class="strip" transform="translate(1395.60 2004.90) rotate(90) scale(1.0403 1.0800)">Ileal content</text>
<text class="ax" transform="translate(21.12 1972.97) scale(1.0085 1.0520)">100%</text>
<text class="ax" transform="translate(47.10 2073.27) scale(1.0423 1.0520)">75%</text>
<text class="ax" transform="translate(49.87 2173.17) scale(1.0157 1.0520)">50%</text>
<text class="ax" transform="translate(47.10 2273.77) scale(1.0423 1.0520)">25%</text>
<text class="ax" transform="translate(80.34 2373.97) scale(1.0055 1.0520)">0%</text>
<text class="ax" transform="translate(260.88 2444.30) scale(1.0314 1.0743)">Day0</text>
<text class="ax" transform="translate(485.75 2444.30) scale(1.0372 1.0743)">Day2</text>
<text class="ax" transform="translate(711.15 2444.30) scale(1.0372 1.0743)">Day7</text>
<text class="ax" transform="translate(922.10 2444.30) scale(1.0254 1.0743)">Day14</text>
<text class="ax" transform="translate(1147.86 2444.30) scale(1.0357 1.0743)">Day35</text>
<text class="title" transform="translate(700.24 2522.00) scale(1.0338 1.0600)">Days</text>
<text class="title" transform="translate(1569.33 661.00) scale(1.0140 1.0500)">Family</text>
<text class="leg" transform="translate(1707.60 745.90) scale(1.0148 1.0000)">f__Bifidobacteriaceae</text>
<text class="leg" transform="translate(1707.60 850.10) scale(1.0059 1.0000)">f__Clostridiaceae_1</text>
<text class="leg" transform="translate(1707.60 955.20) scale(1.0165 1.0000)">f__Corynebacteriaceae</text>
<text class="leg" transform="translate(1707.60 1059.50) scale(1.0152 1.0000)">f__Enterobacteriaceae</text>
<text class="leg" transform="translate(1707.60 1165.30) scale(1.0148 1.0000)">f__Enterococcaceae</text>
<text class="leg" transform="translate(1707.60 1271.50) scale(1.0141 1.0000)">f__Lachnospiraceae</text>
<text class="leg" transform="translate(1707.60 1377.80) scale(1.0146 1.0000)">f__Lactobacillaceae</text>
<text class="leg" transform="translate(1707.60 1481.10) scale(1.0148 1.0000)">f__Ruminococcaceae</text>
<text class="leg" transform="translate(1707.60 1587.40) scale(1.0106 1.0000)">f__Staphylococcaceae</text>
<text class="leg" transform="translate(1707.60 1691.20) scale(1.0151 1.0000)">f__Streptococcaceae</text>
</g>
</svg>
</body>
</html>
